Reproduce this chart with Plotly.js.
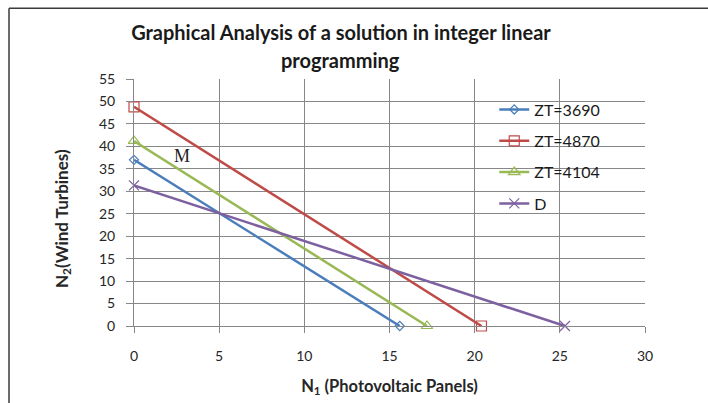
<!DOCTYPE html>
<html>
<head>
<meta charset="utf-8">
<script src="https://cdn.plot.ly/plotly-3.0.1.min.js"></script>
<style>html,body{margin:0;padding:0;background:#fff;}#chart{width:708px;height:403px;}</style>
</head>
<body>
<div id="chart"></div>
<script>
// Data
const seriesNames = ["ZT=3690", "ZT=4870", "ZT=4104", "D"];
const xBlue = [0, 15.6];   const yBlue = [37, 0];
const xRed = [0, 20.4];    const yRed = [48.8, 0];
const xGreen = [0, 17.2];  const yGreen = [41.2, 0];
const xPurple = [0, 25.3]; const yPurple = [31.3, 0];
const xTicks = [0, 5, 10, 15, 20, 25, 30];
const yTicks = [0, 5, 10, 15, 20, 25, 30, 35, 40, 45, 50, 55];
const labelM = "M"; const xM = 2.8; const yM = 37.8;

const colors = ["#4A7EBB", "#BE4B48", "#98B954", "#7D60A0"];
const symbols = ["diamond-open", "square-open", "triangle-up-open", "x-thin-open"];
const sizes = [7, 10, 10, 10];
const xs = [xBlue, xRed, xGreen, xPurple];
const ys = [yBlue, yRed, yGreen, yPurple];

const traces = seriesNames.map((n, i) => ({
  type: "scatter", mode: "lines+markers", name: n, cliponaxis: false,
  x: xs[i], y: ys[i], legendgroup: "g" + i,
  line: {color: colors[i], width: 2.5},
  marker: {symbol: symbols[i], size: sizes[i], color: colors[i], line: {color: colors[i], width: 1.2}}
}));

const gridCol = "#878787";
const fam = "Lato, 'Open Sans', sans-serif";
const layout = {
  width: 708, height: 403,
  margin: {l: 134, r: 63, t: 79, b: 77, pad: 0},
  paper_bgcolor: "#ffffff", plot_bgcolor: "#ffffff",
  font: {family: fam, color: "#262626", size: 14},
  title: {
    text: "<b>Graphical Analysis of a solution in integer linear</b>",
    font: {family: fam, size: 20, color: "#1a1a1a"},
    x: 0.405, xref: "paper", xanchor: "center", y: 0.918, yref: "container", yanchor: "middle"
  },
  xaxis: {
    range: [0, 30], tickvals: xTicks, ticktext: xTicks.map(String),
    showgrid: true, gridcolor: gridCol, gridwidth: 1,
    showline: true, linecolor: gridCol, linewidth: 1, zeroline: false, mirror: false,
    ticks: "outside", ticklen: 6, tickcolor: gridCol, ticklabelstandoff: 11,
    tickfont: {size: 14, color: "#262626"},
    title: {text: "<b>N<sub>1</sub> (Photovoltaic Panels)</b>", font: {size: 16.5, color: "#262626"}, standoff: 17}
  },
  yaxis: {
    range: [0, 55], tickvals: yTicks, ticktext: yTicks.map(String),
    showgrid: true, gridcolor: gridCol, gridwidth: 1,
    showline: true, linecolor: gridCol, linewidth: 1, zeroline: false,
    ticks: "outside", ticklen: 7, tickcolor: gridCol, ticklabelstandoff: 8,
    tickfont: {size: 14, color: "#262626"}
  },
  legend: {
    x: 0.705, y: 0.945, xanchor: "left", yanchor: "top",
    bgcolor: "rgba(0,0,0,0)", borderwidth: 0,
    font: {size: 16, color: "#1a1a1a"}, tracegroupgap: 7.5, itemwidth: 30
  },
  annotations: [
    {text: "<b>programming</b>", xref: "paper", yref: "paper", x: 0.405, y: 1.077, xanchor: "center", yanchor: "middle",
     showarrow: false, font: {family: fam, size: 20, color: "#1a1a1a"}},
    {text: "<b>N<sub>2</sub>(Wind Turbines)</b>", xref: "paper", yref: "paper", x: -0.139, y: 0.437,
     xanchor: "center", yanchor: "middle", textangle: -90, showarrow: false,
     font: {family: fam, size: 17, color: "#262626"}},
    {text: labelM, x: xM, y: yM, xref: "x", yref: "y", showarrow: false,
     font: {family: "'Liberation Serif', 'DejaVu Serif', serif", size: 18, color: "#222"}}
  ],
  shapes: [
    {type: "line", xref: "paper", yref: "paper", x0: -0.2446, x1: 1.3, y0: 1.286, y1: 1.286, line: {color: "#3a3a3a", width: 1.5}},
    {type: "line", xref: "paper", yref: "paper", x0: -0.2446, x1: -0.2446, y0: 1.286, y1: -0.4, line: {color: "#3a3a3a", width: 1.5}}
  ],
  showlegend: true
};
Plotly.newPlot("chart", traces, layout, {displayModeBar: false, staticPlot: true});
</script>
</body>
</html>
